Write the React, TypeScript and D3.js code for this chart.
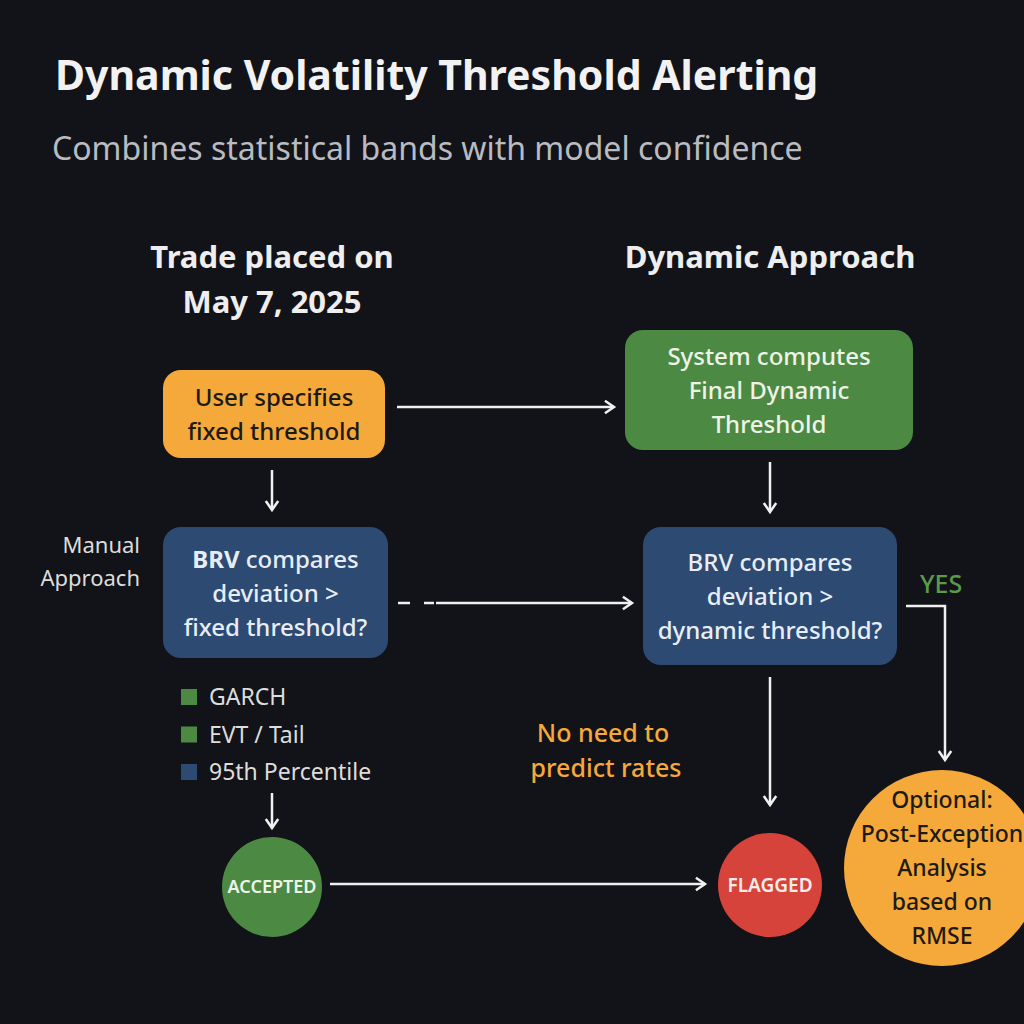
import * as d3 from 'd3';

const W = 1024;
const H = 1024;
const font = '"Noto Sans", "Open Sans", sans-serif';

const boxes = [
  { id: 'fixed', x: 163, y: 370, w: 222, h: 88, fill: '#f5a93a', color: '#1d1a14', lines: ['User specifies', 'fixed threshold'] },
  { id: 'dyn', x: 625, y: 330, w: 288, h: 120, fill: '#4c8a44', color: '#eef3e8', lines: ['System computes', 'Final Dynamic', 'Threshold'] },
  { id: 'brvL', x: 163, y: 527, w: 225, h: 131, fill: '#2c4a72', color: '#e8edf5', lines: ['**BRV** compares', 'deviation >', 'fixed threshold?'] },
  { id: 'brvR', x: 643, y: 527, w: 254, h: 138, fill: '#2c4a72', color: '#e8edf5', lines: ['BRV compares', 'deviation >', 'dynamic threshold?'] },
];

const circles = [
  { label: ['ACCEPTED'], cx: 272, cy: 887, r: 50, fill: '#4c8a44', color: '#eef3e8', size: 18 },
  { label: ['FLAGGED'], cx: 770, cy: 885, r: 52, fill: '#d6433a', color: '#f7ecea', size: 19 },
  { label: ['Optional:', 'Post-Exception', 'Analysis', 'based on', 'RMSE'], cx: 942, cy: 868, r: 98, fill: '#f5a93a', color: '#1d1a14', size: 23 },
];

const arrows: { pts: [number, number][]; dash?: boolean }[] = [
  { pts: [[397, 407], [614, 407]] },
  { pts: [[272, 470], [272, 510]] },
  { pts: [[770, 462], [770, 512]] },
  { pts: [[436, 603], [632, 603]] },
  { pts: [[906, 606], [945, 606], [945, 760]] },
  { pts: [[770, 677], [770, 805]] },
  { pts: [[272, 793], [272, 828]] },
  { pts: [[330, 884], [705, 884]] },
];

const legendItems = ['GARCH', 'EVT / Tail', '95th Percentile'];
const legendColors = ['#4c8a44', '#4c8a44', '#2c4a72'];

const line = d3.line<[number, number]>();

function arrowHead(p: [number, number], q: [number, number]) {
  const a = Math.atan2(q[1] - p[1], q[0] - p[0]);
  const s = 11;
  const l: [number, number] = [q[0] - s * Math.cos(a - 0.6), q[1] - s * Math.sin(a - 0.6)];
  const r: [number, number] = [q[0] - s * Math.cos(a + 0.6), q[1] - s * Math.sin(a + 0.6)];
  return line([l, q, r]) as string;
}

function Rich({ t }: { t: string }) {
  const parts = t.split('**');
  return <>{parts.map((p, i) => <tspan key={i} fontWeight={i % 2 ? 700 : 500}>{p}</tspan>)}</>;
}

export default function App() {
  const legendY = d3.scalePoint<string>().domain(legendItems).range([697, 772]);
  return (
    <svg width={W} height={H} style={{ position: 'absolute', left: 0, top: 0 }} fontFamily={font}>
      <rect width={W} height={H} fill="#121318" />
      <text x={55} y={90} fill="#f2f2f2" fontSize={41} fontWeight={700}>Dynamic Volatility Threshold Alerting</text>
      <text x={52} y={160} fill="#b9bbc0" fontSize={32}>Combines statistical bands with model confidence</text>

      <text x={272} y={268} textAnchor="middle" fill="#eeeeee" fontSize={31} fontWeight={700}>Trade placed on</text>
      <text x={272} y={313} textAnchor="middle" fill="#eeeeee" fontSize={31} fontWeight={700}>May 7, 2025</text>
      <text x={770} y={268} textAnchor="middle" fill="#eeeeee" fontSize={31} fontWeight={700}>Dynamic Approach</text>

      <text x={140} y={553} textAnchor="end" fill="#dddddd" fontSize={22}>Manual</text>
      <text x={140} y={586} textAnchor="end" fill="#dddddd" fontSize={22}>Approach</text>

      {boxes.map(b => (
        <g key={b.id}>
          <rect x={b.x} y={b.y} width={b.w} height={b.h} rx={18} fill={b.fill} />
          {b.lines.map((l, i) => (
            <text key={i} x={b.x + b.w / 2} y={b.y + b.h / 2 + (i - (b.lines.length - 1) / 2) * 34 + 9}
              textAnchor="middle" fill={b.color} fontSize={24}><Rich t={l} /></text>
          ))}
        </g>
      ))}

      {arrows.map((a, i) => (
        <g key={i} stroke="#f0f0f0" strokeWidth={2.5} fill="none">
          <path d={line(a.pts) as string} />
          <path d={arrowHead(a.pts[a.pts.length - 2], a.pts[a.pts.length - 1])} />
        </g>
      ))}
      <path d="M398,603H410M424,603H434" stroke="#f0f0f0" strokeWidth={2.5} />

      <text x={920} y={593} fill="#5a9a48" fontSize={25} fontWeight={500}>YES</text>

      {legendItems.map((d, i) => (
        <g key={d}>
          <rect x={181} y={(legendY(d) as number) - 8} width={16} height={16} fill={legendColors[i]} />
          <text x={209} y={(legendY(d) as number) + 8} fill="#dddddd" fontSize={23}>{d}</text>
        </g>
      ))}

      <text x={603} y={742} textAnchor="middle" fill="#f5a93a" fontSize={25} fontWeight={500}>No need to</text>
      <text x={606} y={777} textAnchor="middle" fill="#f5a93a" fontSize={25} fontWeight={500}>predict rates</text>

      {circles.map((c, k) => (
        <g key={k}>
          <circle cx={c.cx} cy={c.cy} r={c.r} fill={c.fill} />
          {c.label.map((l, i) => (
            <text key={i} x={c.cx} y={c.cy + (i - (c.label.length - 1) / 2) * 34 + c.size * 0.36}
              textAnchor="middle" fill={c.color} fontSize={c.size} fontWeight={k < 2 ? 600 : 500}>{l}</text>
          ))}
        </g>
      ))}
    </svg>
  );
}
